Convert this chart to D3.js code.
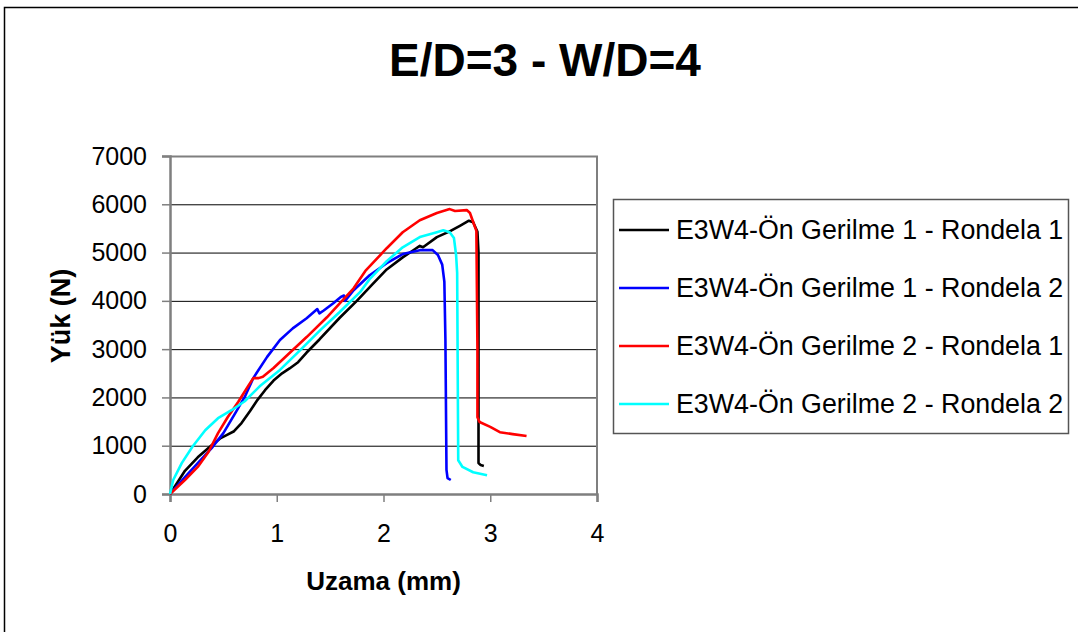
<!DOCTYPE html>
<html>
<head>
<meta charset="utf-8">
<script src="https://cdn.jsdelivr.net/npm/d3@7"></script>
<style>
  body { margin: 0; background: #fff; }
  svg { display: block; font-family: "Liberation Sans", Arial, sans-serif; }
</style>
</head>
<body>
<svg id="chart" width="1078" height="632"></svg>
<script>
// load (N) vs elongation (mm)
const g1r1 = [[0,0],[0.14,480],[0.26,760],[0.39,1010],[0.47,1150],[0.53,1220],[0.60,1300],[0.67,1470],[0.75,1720],[0.82,1950],[0.89,2150],[0.97,2350],[1.05,2500],[1.12,2600],[1.20,2730],[1.28,2930],[1.40,3200],[1.59,3650],[1.75,4000],[1.90,4350],[2.03,4650],[2.18,4900],[2.30,5080],[2.34,5140],[2.37,5110],[2.50,5320],[2.62,5440],[2.72,5560],[2.80,5660],[2.84,5630],[2.88,5430],[2.89,5000],[2.89,3000],[2.89,640],[2.91,600],[2.94,580]];
const g1r2 = [[0,0],[0.14,350],[0.26,640],[0.39,950],[0.50,1260],[0.61,1670],[0.70,2010],[0.78,2400],[0.91,2840],[1.03,3190],[1.15,3430],[1.28,3640],[1.38,3830],[1.40,3740],[1.44,3800],[1.53,3950],[1.60,4080],[1.63,4110],[1.64,4000],[1.72,4220],[1.87,4530],[2.03,4780],[2.18,4970],[2.34,5050],[2.46,5050],[2.51,4950],[2.55,4750],[2.57,4400],[2.58,3200],[2.59,500],[2.60,330],[2.63,290]];
const g2r1 = [[0,0],[0.14,290],[0.26,560],[0.36,870],[0.45,1260],[0.54,1590],[0.64,1910],[0.73,2230],[0.78,2400],[0.83,2400],[0.87,2430],[0.97,2610],[1.10,2880],[1.28,3250],[1.47,3660],[1.59,3950],[1.72,4260],[1.83,4620],[2.03,5090],[2.18,5420],[2.34,5670],[2.50,5820],[2.62,5900],[2.67,5860],[2.78,5880],[2.81,5820],[2.85,5570],[2.87,5450],[2.88,3000],[2.88,1590],[2.90,1490],[3.00,1390],[3.09,1280],[3.21,1240],[3.34,1200]];
const g2r2 = [[0,0],[0.03,290],[0.11,640],[0.21,980],[0.33,1320],[0.45,1570],[0.58,1740],[0.70,1920],[0.84,2230],[1.03,2570],[1.22,2980],[1.41,3400],[1.59,3770],[1.78,4180],[1.87,4450],[2.03,4820],[2.18,5110],[2.34,5320],[2.50,5420],[2.56,5460],[2.62,5420],[2.66,5300],[2.68,4950],[2.69,4580],[2.70,700],[2.74,560],[2.84,450],[2.97,390]];

const seriesNames = ["E3W4-Ön Gerilme 1 - Rondela 1", "E3W4-Ön Gerilme 1 - Rondela 2", "E3W4-Ön Gerilme 2 - Rondela 1", "E3W4-Ön Gerilme 2 - Rondela 2"];
const seriesColors = ["#000000", "#0000ff", "#ff0000", "#00ffff"];
const xTicks = [0, 1, 2, 3, 4];
const yTicks = [0, 1000, 2000, 3000, 4000, 5000, 6000, 7000];

const series = [g1r1, g1r2, g2r1, g2r2];

const svg = d3.select("#chart");

// outer frame
svg.append("rect")
    .attr("x", 4.5).attr("y", 7.5)
    .attr("width", 1100).attr("height", 700)
    .attr("fill", "none").attr("stroke", "#000").attr("stroke-width", 1.5);

const plotL = 170, plotR = 597, plotT = 156, plotB = 494;
const x = d3.scaleLinear().domain([0, 4]).range([plotL, plotR]);
const y = d3.scaleLinear().domain([0, 7000]).range([plotB, plotT]);

// gridlines
svg.append("g")
    .selectAll("line")
    .data(yTicks.filter(d => d > 0 && d < 7000))
    .enter()
    .append("line")
    .attr("x1", plotL).attr("x2", plotR)
    .attr("y1", d => y(d) + 0.5).attr("y2", d => y(d) + 0.5)
    .attr("stroke", "#000").attr("stroke-width", 1);

// plot border (top/right)
svg.append("path")
    .attr("d", `M${plotL},${plotT + 0.5}H${plotR}V${plotB}`)
    .attr("fill", "none").attr("stroke", "#7f7f7f").attr("stroke-width", 2);

// axes
const xAxis = svg.append("g")
    .attr("transform", `translate(0,${plotB})`)
    .call(d3.axisBottom(x).tickValues(xTicks).tickFormat(d3.format("d")).tickSize(8).tickPadding(22));
const yAxis = svg.append("g")
    .attr("transform", `translate(${plotL},0)`)
    .call(d3.axisLeft(y).tickValues(yTicks).tickFormat(d3.format("d")).tickSize(8).tickPadding(15));

[xAxis, yAxis].forEach(a => {
    a.select(".domain").attr("stroke", "#7f7f7f").attr("stroke-width", 2.5);
    a.selectAll(".tick line").attr("stroke", "#7f7f7f").attr("stroke-width", 1.5);
    a.selectAll(".tick text")
        .attr("fill", "#000")
        .attr("font-size", "25px")
        .attr("font-family", "Liberation Sans, Arial, sans-serif");
});

// curves
const line = d3.line().x(d => x(d[0])).y(d => y(d[1]));
svg.append("g")
    .selectAll("path")
    .data(series)
    .enter()
    .append("path")
    .attr("d", line)
    .attr("fill", "none")
    .attr("stroke", (d, i) => seriesColors[i])
    .attr("stroke-width", 2.6)
    .attr("stroke-linejoin", "round");

// title
svg.append("text")
    .attr("x", 545).attr("y", 76)
    .attr("text-anchor", "middle")
    .attr("font-size", "46px").attr("font-weight", "bold")
    .text("E/D=3 - W/D=4");

// axis titles
svg.append("text")
    .attr("x", (plotL + plotR) / 2).attr("y", 590)
    .attr("text-anchor", "middle")
    .attr("font-size", "26px").attr("font-weight", "bold")
    .text("Uzama (mm)");

svg.append("text")
    .attr("transform", "translate(70,316) rotate(-90)")
    .attr("text-anchor", "middle")
    .attr("font-size", "27px").attr("font-weight", "bold")
    .text("Yük (N)");

// legend
const legend = svg.append("g");
legend.append("rect")
    .attr("x", 613.5).attr("y", 199.5)
    .attr("width", 455).attr("height", 234)
    .attr("fill", "#fff").attr("stroke", "#555").attr("stroke-width", 1.5);

const items = legend.selectAll(".item")
    .data(seriesNames)
    .enter()
    .append("g")
    .attr("transform", (d, i) => `translate(0,${230 + i * 58})`);
items.append("line")
    .attr("x1", 619).attr("x2", 669)
    .attr("stroke", (d, i) => seriesColors[i])
    .attr("stroke-width", 2.5);
items.append("text")
    .attr("x", 676).attr("y", 9)
    .attr("font-size", "26.8px")
    .text(d => d);
</script>
</body>
</html>
